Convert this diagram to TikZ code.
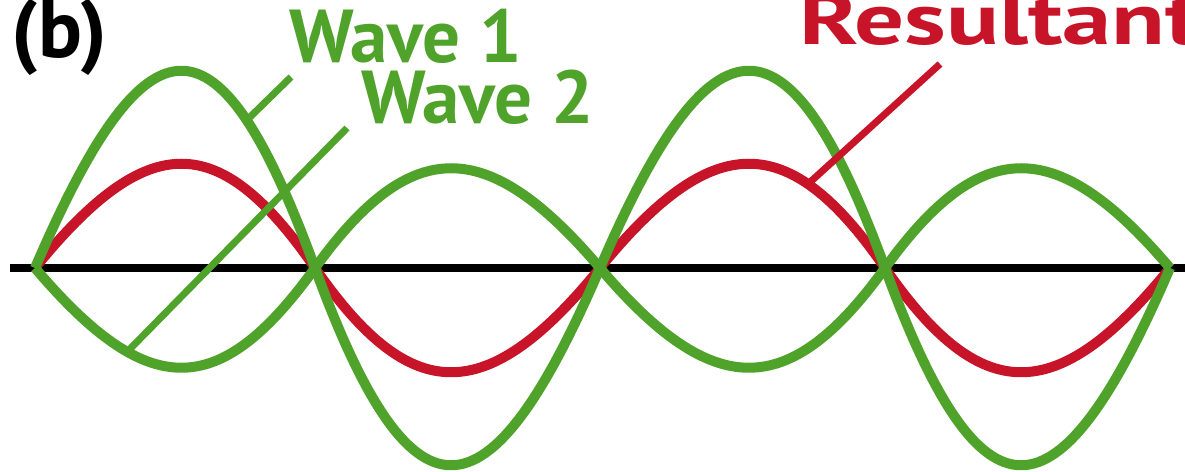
\documentclass[tikz,border=0pt]{standalone}
\usepackage{fontspec}
\setmainfont{PT Sans}
\definecolor{wavegreen}{RGB}{80,163,42}
\definecolor{resultred}{RGB}{200,20,40}
\tikzset{
  wave/.style={
    line width=3mm,
    wavegreen,
    line join=round
  },
  resultwave/.style={
    line width=3mm,
    resultred,
    line join=round
  },
  axisline/.style={
    line width=2.4mm,
    black
  },
  pointer/.style={
    line width=2.1mm
  },
  wavename/.style={
    font=\bfseries\fontsize{64}{64}\selectfont,
    inner sep=0pt,
    text depth=0pt,
    anchor=base west
  }
}

\begin{document}
\begin{tikzpicture}[x=0.3mm, y=-0.3mm]
\clip (0,0) rectangle (1185,472);
% crossings on the axis
\coordinate (z0) at (35,268);
\coordinate (z1) at (315,268);
\coordinate (z2) at (600,268);
\coordinate (z3) at (885,268);
\coordinate (z4) at (1170,268);
\coordinate (axl) at (10,268);
\coordinate (axr) at (1185,268);
\draw[axisline] (axl) -- (axr);
% resultant
\draw[resultwave] (z0) .. controls (148,129) and (219,129) .. (z1)
  .. controls (411,407) and (487,407) .. (z2)
  .. controls (713,129) and (789,129) .. (z3)
  .. controls (981,407) and (1057,407) .. (z4);
% wave 2
\draw[wave] (z0) .. controls (148,401) and (219,401) .. (z1)
  .. controls (411,135) and (487,135) .. (z2)
  .. controls (713,401) and (789,401) .. (z3)
  .. controls (981,135) and (1057,135) .. (z4);
% wave 1
\draw[wave] (z0) .. controls (148,5) and (219,5) .. (z1)
  .. controls (411,531) and (487,531) .. (z2)
  .. controls (713,5) and (789,5) .. (z3)
  .. controls (981,531) and (1057,531) .. (z4);
% labels
\node[wavename, font=\bfseries\fontsize{70}{70}\selectfont] (tag) at (11,58) {(b)};
\node[wavename, wavegreen] (w1) at (289,63) {Wave 1};
\node[wavename, wavegreen] (w2) at (361,124) {Wave 2};
\node[wavename, resultred, font=\bfseries\fontsize{62}{62}\selectfont, xscale=1.36] (res) at (799,45) {Resultant};
% pointers
\coordinate (w1top) at (291,77);
\coordinate (w1foot) at (247,120);
\coordinate (w2top) at (347,128);
\coordinate (w2foot) at (128,351);
\coordinate (restop) at (940,64);
\coordinate (resfoot) at (808,184);
\draw[pointer, wavegreen] (w1top) -- (w1foot);
\draw[pointer, wavegreen] (w2top) -- (w2foot);
\draw[pointer, resultred] (restop) -- (resfoot);
\end{tikzpicture}
\end{document}
